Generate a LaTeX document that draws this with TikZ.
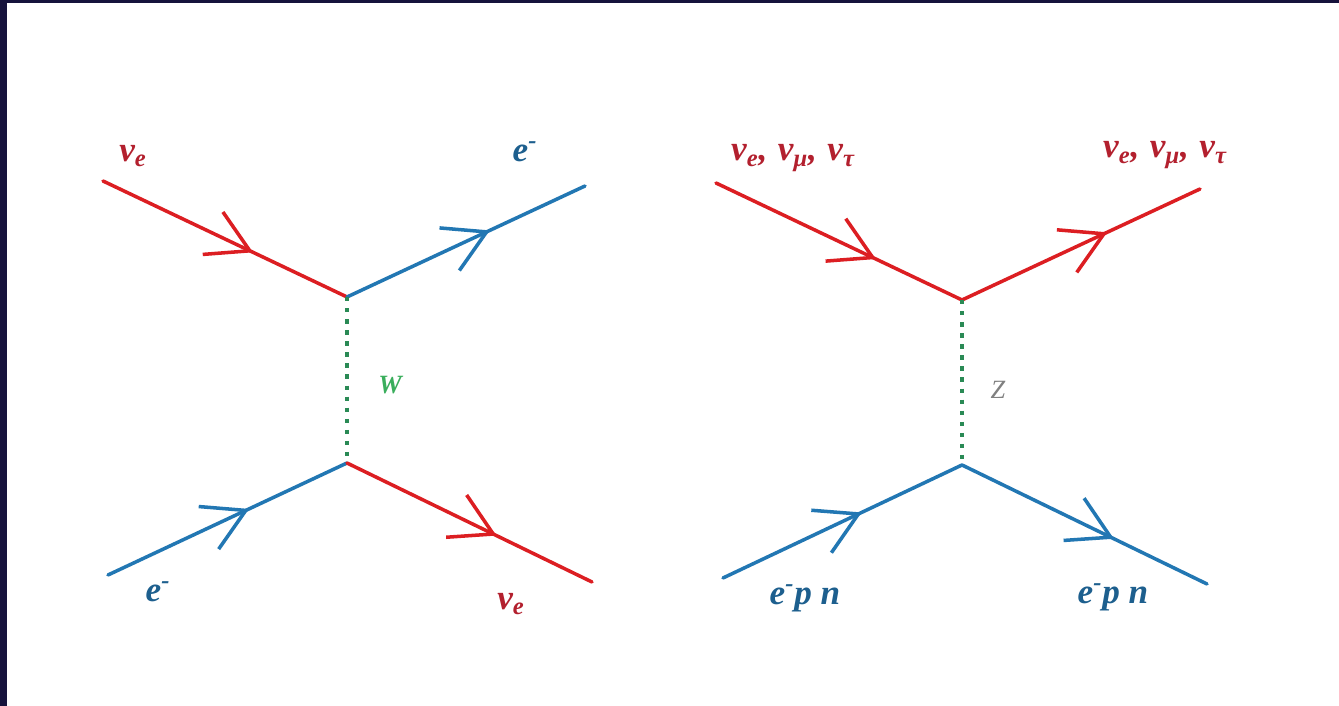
\documentclass[tikz,border=0pt]{standalone}
\usepackage{fontspec}
\setmainfont{Liberation Serif}[BoldItalicFont={Liberation Serif Bold Italic},ItalicFont={Liberation Serif Italic},BoldFont={Liberation Serif Bold}]
\usepackage{xcolor}
\usetikzlibrary{arrows.meta,decorations.markings}
\definecolor{nuc}{HTML}{DC1E22}
\definecolor{elc}{HTML}{2277B3}
\definecolor{nutxt}{HTML}{B3202E}
\definecolor{eltxt}{HTML}{1D5F8E}
\definecolor{bosc}{HTML}{2A8A55}
\definecolor{wtxt}{HTML}{3AAE5C}
\definecolor{framec}{HTML}{16133C}
\newcommand{\nulab}[1]{ν\textsubscript{#1}}
\newcommand{\elab}{e\textsuperscript{-}}
\newcommand{\nuall}{\nulab{e},\hspace{6pt}\nulab{μ},\hspace{6pt}\nulab{τ}}
\tikzset{
  fer/.style={line width=2pt,line cap=round},
  fwd/.style={postaction={decorate},decoration={markings,
    mark=at position #1 with {\arrow[line width=2pt]{Straight Barb[length=8.2mm,width=9.4mm]}}}},
  bos/.style={bosc,line width=2.5pt,dash pattern=on 2.5pt off 3.8pt},
  lab/.style={font=\fontsize{20}{24}\selectfont\bfseries\itshape,inner sep=1pt}
}
\begin{document}
\begin{tikzpicture}
\useasboundingbox (0,0) rectangle (26.78,14.12);
\fill[white] (0,0) rectangle (26.78,14.12);
\fill[framec] (0,14.06) rectangle (26.78,14.12);
\fill[framec] (0,0) rectangle (0.14,14.12);
% left: W exchange
\coordinate (lt) at (6.94,8.18);
\coordinate (lb) at (6.94,4.86);
\coordinate (lnuin) at (2.06,10.50);
\coordinate (leout) at (11.70,10.40);
\coordinate (lein) at (2.16,2.62);
\coordinate (lnuout) at (11.84,2.48);
\draw[fer,nuc,fwd=0.615] (lnuin) -- (lt);
\draw[fer,elc,fwd=0.6] (lt) -- (leout);
\draw[fer,elc,fwd=0.59] (lein) -- (lb);
\draw[fer,nuc,fwd=0.61] (lb) -- (lnuout);
\draw[bos] (lt) -- (lb);
\node[lab,nutxt] (lnuinl) at (2.66,11.0) {\nulab{e}};
\node[lab,eltxt] (leoutl) at (10.50,11.08) {\elab};
\node[lab,eltxt] (leinl) at (3.16,2.28) {\elab};
\node[lab,nutxt] (lnuoutl) at (10.22,2.04) {\nulab{e}};
\node[wtxt,font=\fontsize{15}{18}\selectfont\bfseries\itshape] (wl) at (7.80,6.42) {W};
% right: Z exchange
\coordinate (rt) at (19.24,8.12);
\coordinate (rb) at (19.24,4.82);
\coordinate (rnuin) at (14.32,10.46);
\coordinate (rnuout) at (24.00,10.34);
\coordinate (rein) at (14.46,2.56);
\coordinate (reout) at (24.14,2.44);
\draw[fer,nuc,fwd=0.65] (rnuin) -- (rt);
\draw[fer,nuc,fwd=0.61] (rt) -- (rnuout);
\draw[fer,elc,fwd=0.58] (rein) -- (rb);
\draw[fer,elc,fwd=0.62] (rb) -- (reout);
\draw[bos] (rt) -- (rb);
\node[lab,nutxt] (rnuinl) at (15.86,10.96) {\nuall};
\node[lab,nutxt] (rnuoutl) at (23.30,11.02) {\nuall};
\node[lab,eltxt] (reinl) at (16.10,2.16) {\elab p n};
\node[lab,eltxt] (reoutl) at (22.26,2.18) {\elab p n};
\node[gray,font=\fontsize{15}{18}\selectfont\itshape] (zl) at (19.96,6.32) {Z};
\end{tikzpicture}
\end{document}
